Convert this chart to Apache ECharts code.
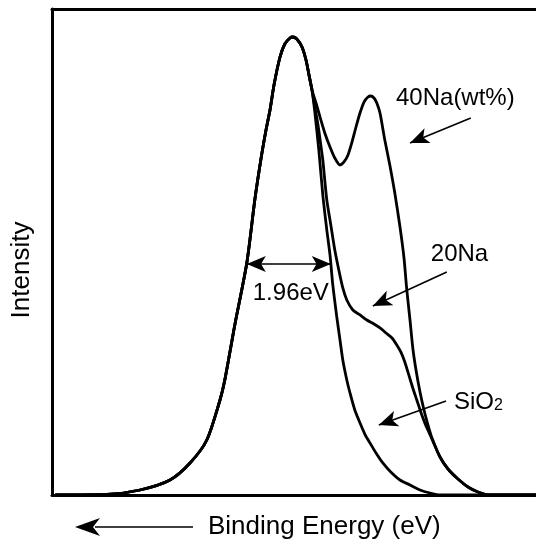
<!DOCTYPE html>
<html><head><meta charset="utf-8">
<script src="https://cdn.jsdelivr.net/npm/echarts@6/dist/echarts.min.js"></script>
<style>html,body{margin:0;padding:0;background:#fff}#c{width:536px;height:546px}</style>
</head><body><div id="c"></div>
<script>
// Binding energy (eV) / intensity (a.u.)
const sharedRise = [[538.92,0],[537.63,0.1],[536.8,1.03],[536.05,3.09],[535.55,6.58],[535.13,11.32],[534.8,19.55],[534.68,23.66],[534.43,34.98],[534.13,47.74],[533.93,60.70],[533.78,68.93],[533.65,75.10],[533.55,79.22],[533.45,84.36],[533.3,90.12],[533.18,92.80],[533.05,94.03],[532.98,94.24],[532.88,93.83],[532.75,92.18],[532.65,89.51],[532.58,86.63],[532.5,83.33]];
const na40Fall = [[532.4,80.66],[532.3,77.78],[532.18,74.49],[532.05,71.60],[531.93,69.34],[531.8,67.90],[531.7,68.52],[531.6,69.96],[531.5,72.63],[531.4,75.72],[531.3,78.60],[531.2,80.86],[531.1,81.89],[531.03,82.10],[530.95,81.69],[530.88,80.67],[530.8,78.60],[530.68,73.06],[530.55,67.71],[530.43,62.15],[530.3,55.15],[530.2,48.77],[530.13,42.19],[530.05,36.01],[529.98,30.25],[529.9,25.72],[529.8,21.20],[529.7,17.49],[529.6,14.40],[529.5,11.73]];
const na20Fall = [[532.43,79.85],[532.35,76.15],[532.28,72.03],[532.23,68.93],[532.13,60.70],[532.03,55.57],[531.93,50.42],[531.83,46.31],[531.73,42.60],[531.63,40.13],[531.48,38.07],[531.3,37.04],[531.13,36.01],[530.95,35.19],[530.8,34.37],[530.65,33.34],[530.5,32.31],[530.38,30.87],[530.28,29.43],[530.18,27.37],[530.08,24.70],[529.98,22.02],[529.88,19.55],[529.78,17.08],[529.68,14.82],[529.58,12.97],[529.48,11.11]];
const naTail = [[529.3,7.82],[529.1,5.35],[528.85,3.29],[528.6,1.65],[528.35,0.62],[528.05,0],[526.9,0]];
const sio2Fall = [[532.43,78.82],[532.33,71.00],[532.23,61.74],[532.13,54.54],[532.05,49.39],[531.98,43.22],[531.88,36.63],[531.8,31.90],[531.73,27.78],[531.63,23.67],[531.55,20.99],[531.43,17.49],[531.3,14.82],[531.18,12.55],[531.05,10.70],[530.9,8.64],[530.73,6.59],[530.53,4.73],[530.3,3.09],[530.05,2.06],[529.8,1.03],[529.55,0.41],[529.3,0],[526.9,0]];

// annotations (data coordinates)
const labelTexts = ['40Na(wt%)', '20Na', 'SiO{s|2}', '1.96eV'];
const labelAt = [[530.4,81.7],[529.53,49.6],[528.95,19.14],[533.03,41.57]];
const arrowFrom = [[528.53,77.59],[529.13,45.89],[529.15,19.35]];
const arrowTo = [[530.05,72.44],[530.98,38.90],[530.83,14.40]];
const fwhmEnds = [[534.13,47.54],[532.03,47.54]];

const FONT = "'Liberation Sans', Arial, Helvetica, sans-serif";
const chart = echarts.init(document.getElementById('c'));
const lineStyle = {color:'#000', width:2.8};
const mkSeries = (name, data, extra) => Object.assign({
  name, type:'line', data, showSymbol:false, symbol:'none', smooth:0.25,
  lineStyle, itemStyle:{color:'#000'}, silent:true, z:3
}, extra||{});

chart.setOption({
  animation:false,
  backgroundColor:'#fff',
  grid:{left:52, right:0, top:9, bottom:51},
  xAxis:[{
    type:'value', inverse:true, min:526.9, max:539, position:'bottom',
    axisLine:{onZero:false, lineStyle:{color:'#000', width:3}},
    axisTick:{show:false}, axisLabel:{show:false}, splitLine:{show:false}
  },{
    type:'value', inverse:true, min:526.9, max:539, position:'top',
    axisLine:{onZero:false, lineStyle:{color:'#000', width:3}},
    axisTick:{show:false}, axisLabel:{show:false}, splitLine:{show:false}
  }],
  yAxis:{
    type:'value', min:0, max:100, position:'left',
    name:'Intensity', nameLocation:'middle', nameGap:17,
    nameTextStyle:{fontFamily:FONT, fontSize:26, color:'#000', padding:[0,36,0,0]},
    axisLine:{show:true, onZero:false, lineStyle:{color:'#000', width:3}},
    axisTick:{show:false}, axisLabel:{show:false}, splitLine:{show:false}
  },
  series:[
    mkSeries('40Na', sharedRise.concat(na40Fall, naTail)),
    mkSeries('20Na', sharedRise.concat(na20Fall, naTail)),
    mkSeries('SiO2', sharedRise.concat(sio2Fall), {
      markLine:{
        silent:true, animation:false,
        label:{show:false},
        lineStyle:{color:'#000', width:1.6, type:'solid'},
        symbolSize:[12,19],
        data: arrowFrom.map((f,i)=>[{coord:f, symbol:'none'},{coord:arrowTo[i], symbol:'arrow'}])
          .concat([[{coord:fwhmEnds[0], symbol:'arrow'},{coord:fwhmEnds[1], symbol:'arrow'}]])
      }
    })
  ]
});

const px = labelAt.map(p => chart.convertToPixel({gridIndex:0}, p));
const aligns = ['left','left','left','center'];
const graphics = labelTexts.map((t,i)=>({
  type:'text', x:px[i][0], y:px[i][1], silent:true, z:10,
  style:{text:t, fontFamily:FONT, fontSize:24, fill:'#000', align:aligns[i], verticalAlign:'middle', lineHeight:24,
    rich:{s:{fontFamily:FONT, fontSize:16, fill:'#000', lineHeight:12, verticalAlign:'bottom'}}}
}));
// x axis title with leftward arrow (direction of increasing binding energy)
graphics.push({type:'text', x:208, y:527, silent:true,
  style:{text:'Binding Energy (eV)', fontFamily:FONT, fontSize:26, fill:'#000', align:'left', verticalAlign:'middle'}});
graphics.push({type:'line', silent:true, shape:{x1:95, y1:527, x2:193, y2:527}, style:{stroke:'#000', lineWidth:1.6}});
graphics.push({type:'polygon', silent:true, shape:{points:[[75,527],[100,518],[93,527],[100,536]]}, style:{fill:'#000'}});
chart.setOption({graphic:graphics});
</script></body></html>
